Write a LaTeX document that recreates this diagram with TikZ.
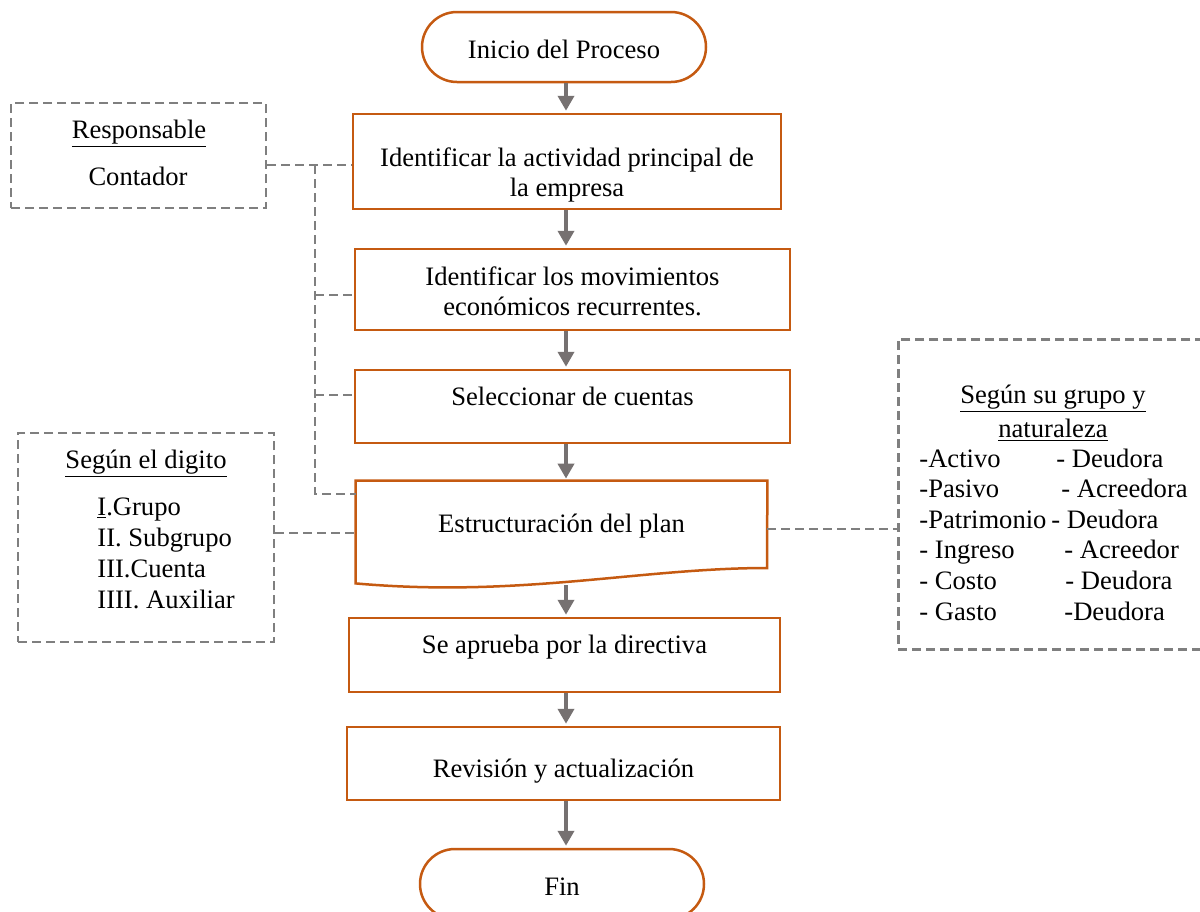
\documentclass[tikz,border=0pt]{standalone}
\usepackage{fontspec}
\setmainfont{Liberation Serif}
\usetikzlibrary{arrows.meta}
\definecolor{flowOrange}{HTML}{C55A11}
\definecolor{arrowGray}{HTML}{767171}
\definecolor{dashGray}{HTML}{7F7F7F}

\begin{document}
\begin{tikzpicture}[x=0.5pt,y=-0.5pt,
  txt/.style={inner sep=0pt, font=\fontsize{13.3}{15.3}\selectfont},
  stepbox/.style={draw=flowOrange, line width=1.25pt, fill=white, inner sep=0pt},
  terminal/.style={stepbox, rounded corners=17.5pt, minimum width=142pt, minimum height=35pt},
  notebox/.style={draw=dashGray, line width=1.25pt, dash pattern=on 4.5pt off 2.5pt, inner sep=0pt},
  dashline/.style={draw=dashGray, line width=1.25pt, dash pattern=on 4.5pt off 2.5pt},
  flowarrow/.style={draw=arrowGray, line width=2pt, -{Triangle[width=8pt,length=7.5pt]}, shorten >=1pt}
]
\clip (0,0) rectangle (1200,911);
\fill[white] (0,0) rectangle (1200,911);

% column of arrows
\coordinate (ax) at (566,0);

% main flow (multi-line texts are anchored at the baseline of their last line)
\node[terminal] (start) at (564,47) {};
\node[txt, anchor=base] (startT) at (564,58) {Inicio del Proceso};

\node[stepbox, minimum width=214pt, minimum height=47.5pt] (b1) at (567,161.5) {};
\node[txt, align=center, anchor=base, font=\fontsize{13.3}{15}\selectfont] (b1T) at (567,196.7)
  {Identificar la actividad principal de\\la empresa};

\node[stepbox, minimum width=217.5pt, minimum height=40.5pt] (b2) at (572.5,289.5) {};
\node[txt, align=center, anchor=base, font=\fontsize{13.3}{15}\selectfont] (b2T) at (572.5,315)
  {Identificar los movimientos\\econ\'omicos recurrentes.};

\node[stepbox, minimum width=217.5pt, minimum height=36.5pt] (b3) at (572.5,406.5) {};
\node[txt, anchor=base] (b3T) at (572.5,405) {Seleccionar de cuentas};

% document shape with wavy bottom
\node[inner sep=0pt, minimum width=205.5pt, minimum height=51pt] (doc) at (561.5,532) {};
\draw[draw=flowOrange, line width=1.25pt, fill=white]
  (doc.north west) -- (doc.north east) -- (767,568)
  .. controls (640,568) and (520,598) .. (doc.south west) -- cycle;
\node[txt, anchor=base] (docT) at (561.5,532) {Estructuraci\'on del plan};

\node[stepbox, minimum width=215.5pt, minimum height=37pt] (b5) at (564.5,655) {};
\node[txt, anchor=base] (b5T) at (564.5,653) {Se aprueba por la directiva};

\node[stepbox, minimum width=216.5pt, minimum height=36.5pt] (b6) at (563.5,763.5) {};
\node[txt, anchor=base] (b6T) at (563.5,777) {Revisi\'on y actualizaci\'on};

\node[terminal] (fin) at (562,884) {};
\node[txt, anchor=base] (finT) at (562,895) {Fin};

% arrows
\draw[flowarrow] (start.south -| ax) -- (b1.north -| ax);
\draw[flowarrow] (b1.south -| ax) -- (b2.north -| ax);
\draw[flowarrow] (b2.south -| ax) -- (b3.north -| ax);
\draw[flowarrow] (b3.south -| ax) -- (doc.north -| ax);
\coordinate (docb) at (566,585);
\draw[flowarrow] (docb) -- (b5.north -| ax);
\draw[flowarrow] (b5.south -| ax) -- (b6.north -| ax);
\draw[flowarrow] (b6.south -| ax) -- (fin.north -| ax);

% responsible note
\node[notebox, minimum width=127.5pt, minimum height=52.5pt] (resp) at (138.5,155.5) {};
\node[txt, anchor=base] (respT) at (139,138) {\underline{Responsable}};
\node[txt, anchor=base] (respC) at (138,185) {Contador};

\coordinate (k1) at (315,165);
\coordinate (k2) at (315,295);
\coordinate (k3) at (315,395);
\coordinate (k4) at (315,494);
\draw[dashline] (resp.east |- k1) -- (b1.west |- k1);
\draw[dashline] (k1) -- (k4) -- (doc.west |- k4);
\draw[dashline] (k2) -- (b2.west |- k2);
\draw[dashline] (k3) -- (b3.west |- k3);

% digit levels note
\node[notebox, minimum width=128pt, minimum height=104.5pt] (dig) at (146,537.5) {};
\node[txt, anchor=base] (digT) at (146,468) {\underline{Seg\'un el digito}};
\node[txt, anchor=base west, align=left, font=\fontsize{13.3}{15.5}\selectfont] (digL) at (97,608)
  {\underline{I}.Grupo\\II. Subgrupo\\III.Cuenta\\IIII. Auxiliar};
\coordinate (c5) at (0,533);
\draw[dashline] (dig.east |- c5) -- (doc.west |- c5);

% group and nature note
\node[notebox, minimum width=160pt, minimum height=155pt, anchor=north west] (nat) at (897,338) {};
\node[txt, anchor=base, align=center, font=\fontsize{13.3}{17}\selectfont] (natT) at (1053,437)
  {\underline{Seg\'un su grupo y}\\\underline{naturaleza}};
\node[txt, anchor=base west, align=left, font=\fontsize{13.3}{15.3}\selectfont] (natL) at (919,620)
  {\makebox[68.5pt][l]{-Activo}- Deudora\\
   \makebox[71pt][l]{-Pasivo}- Acreedora\\
   \makebox[66pt][l]{-Patrimonio}- Deudora\\
   \makebox[72.5pt][l]{- Ingreso}- Acreedor\\
   \makebox[73pt][l]{- Costo}- Deudora\\
   \makebox[72.5pt][l]{- Gasto}-Deudora};
\coordinate (c6) at (0,529);
\draw[dashline] (doc.east |- c6) -- (nat.west |- c6);
\end{tikzpicture}
\end{document}
